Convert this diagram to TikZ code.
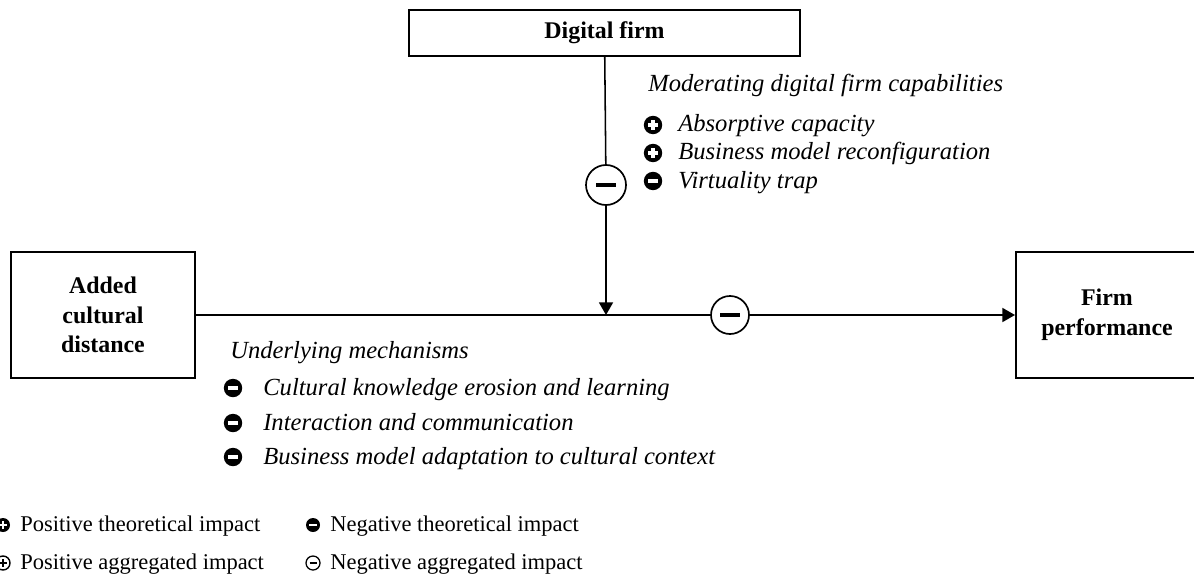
\documentclass[tikz,border=0pt]{standalone}
\usepackage{fontspec}
\setmainfont{Liberation Serif}
\usetikzlibrary{arrows.meta, positioning}

\tikzset{
  box/.style={rectangle, draw=black, line width=1.4pt, inner sep=0pt,
    align=center, font=\fontsize{17}{21}\selectfont\bfseries},
  arrow/.style={-{Triangle[length=9pt,width=10pt]}, line width=1.1pt},
  line/.style={line width=1.1pt},
  itemtxt/.style={anchor=base west, inner sep=0pt, font=\fontsize{17.5}{21}\selectfont\itshape},
  legtxt/.style={anchor=base west, inner sep=0pt, font=\fontsize{16}{20}\selectfont},
  thpos/.style={circle, fill=black, inner sep=0pt, minimum size=#1,
    path picture={\draw[white, line width=0.18*#1]
      ([xshift=-0.27*#1]path picture bounding box.center) -- ([xshift=0.27*#1]path picture bounding box.center)
      ([yshift=-0.27*#1]path picture bounding box.center) -- ([yshift=0.27*#1]path picture bounding box.center);}},
  thpos/.default=0.46cm,
  thneg/.style={circle, fill=black, inner sep=0pt, minimum size=#1,
    path picture={\draw[white, line width=0.18*#1]
      ([xshift=-0.27*#1]path picture bounding box.center) -- ([xshift=0.27*#1]path picture bounding box.center);}},
  thneg/.default=0.46cm,
  aggpos/.style={circle, draw=black, fill=white, line width=0.1*#1, inner sep=0pt, minimum size=#1,
    path picture={\draw[black, line width=0.12*#1]
      ([xshift=-0.27*#1]path picture bounding box.center) -- ([xshift=0.27*#1]path picture bounding box.center)
      ([yshift=-0.27*#1]path picture bounding box.center) -- ([yshift=0.27*#1]path picture bounding box.center);}},
  aggneg/.style={circle, draw=black, fill=white, line width=1.2pt, inner sep=0pt, minimum size=#1,
    path picture={\draw[black, line width=0.09*#1]
      ([xshift=-0.25*#1]path picture bounding box.center) -- ([xshift=0.25*#1]path picture bounding box.center);}},
  aggneg/.default=1cm
}

\begin{document}
\begin{tikzpicture}[x=0.025cm, y=-0.025cm]
  \clip (0,0) rectangle (1194,584);

  % boxes
  \node[box, minimum width=9.775cm, minimum height=1.15cm] (digital) at (604.5,33) {Digital firm};
  \node[box, minimum width=4.6cm, minimum height=3.15cm] (added) at (103,315) {Added\\cultural\\distance};
  \node[box, minimum width=4.55cm, minimum height=3.15cm] (perf) at (1107,315) {Firm\\performance};

  % aggregated impacts on the paths
  \node[aggneg] (aggv) at (606,185) {};
  \node[aggneg, minimum size=0.95cm] (aggh) at (730,315) {};
  \coordinate (join) at (606,315);

  \draw[line] (digital) -- (aggv);
  \draw[arrow] (aggv) -- (join);
  \draw[line] (added.east) -- (aggh);
  \draw[arrow] (aggh) -- (perf.west);

  % moderating capabilities
  \node[itemtxt] (modtitle) at (648,92) {Moderating digital firm capabilities};
  \node[thpos] (m1) at (653,125) {};
  \node[itemtxt] (m1txt) at (678,132) {Absorptive capacity};
  \node[thpos] (m2) at (653,153) {};
  \node[itemtxt] (m2txt) at (678,160) {Business model reconfiguration};
  \node[thneg] (m3) at (653,181) {};
  \node[itemtxt] (m3txt) at (678,188) {Virtuality trap};

  % underlying mechanisms
  \node[itemtxt] (mechtitle) at (230,358) {Underlying mechanisms};
  \node[thneg] (u1) at (233,388) {};
  \node[itemtxt] (u1txt) at (263,395) {Cultural knowledge erosion and learning};
  \node[thneg] (u2) at (233,423) {};
  \node[itemtxt] (u2txt) at (263,430) {Interaction and communication};
  \node[thneg] (u3) at (233,457) {};
  \node[itemtxt] (u3txt) at (263,464) {Business model adaptation to cultural context};

  % legend
  \node[thpos=0.35cm] (lg1) at (3,525) {};
  \node[legtxt] (lg1txt) at (20,531) {Positive theoretical impact};
  \node[thneg=0.35cm] (lg2) at (313,525) {};
  \node[legtxt] (lg2txt) at (330,531) {Negative theoretical impact};
  \node[aggpos=0.35cm] (lg3) at (3,563) {};
  \node[legtxt] (lg3txt) at (20,569) {Positive aggregated impact};
  \node[aggneg=0.35cm, line width=0.9pt] (lg4) at (313,563) {};
  \node[legtxt] (lg4txt) at (330,569) {Negative aggregated impact};
\end{tikzpicture}
\end{document}
